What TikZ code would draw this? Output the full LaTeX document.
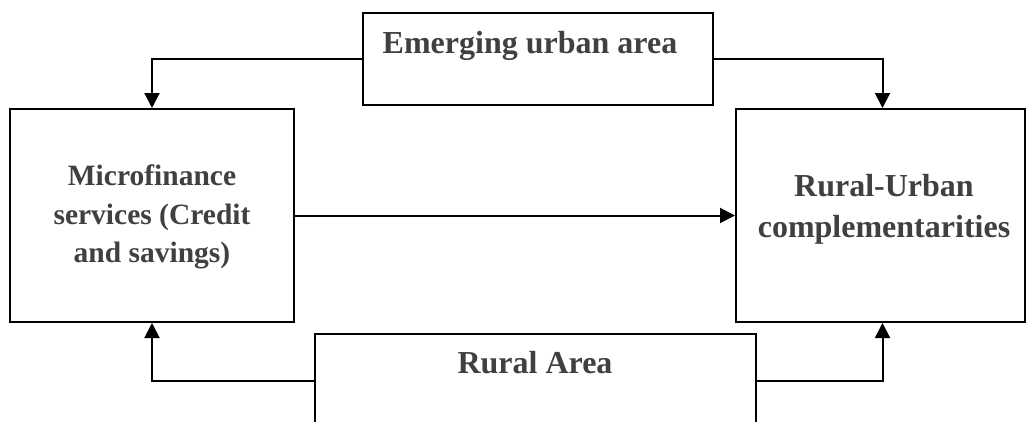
\documentclass[tikz,border=0pt]{standalone}
\usepackage{fontspec}
\setmainfont{Liberation Serif}
\usetikzlibrary{arrows.meta}
\definecolor{txt}{RGB}{64,64,64}
\begin{document}
\begin{tikzpicture}[x=1pt,y=-1pt,
  box/.style={draw, line width=2pt, inner sep=0pt, fill=white},
  lbl/.style={font=\bfseries\fontsize{32}{39}\selectfont, text=txt, align=center, inner sep=0pt},
  arr/.style={line width=2pt, -{Triangle[length=15pt,width=15pt]}}]
\useasboundingbox (0,0) rectangle (1026,421);
\clip (0,0) rectangle (1026,421);
\node[box, minimum width=350pt, minimum height=92pt] (top) at (538,59) {};
\node[box, minimum width=284pt, minimum height=213pt] (mf) at (152,215.5) {};
\node[box, minimum width=289pt, minimum height=213pt] (ru) at (880.5,215.5) {};
\node[box, minimum width=441pt, minimum height=94pt] (rural) at (535.5,381) {};
\node[lbl, anchor=base] (ttop) at (530,53) {Emerging urban area};
\node[lbl, font=\bfseries\fontsize{29.5}{38.5}\selectfont] (tmf) at (152,217) {Microfinance\\services (Credit\\and savings)};
\node[lbl, font=\bfseries\fontsize{32}{41}\selectfont] (tru) at (884,209) {Rural-Urban\\complementarities};
\node[lbl, anchor=base] (trural) at (535,373) {Rural Area};
\draw[arr] (top.west) -| (mf.north);
\draw[arr] (top.east) -| ([xshift=2pt]ru.north);
\draw[arr] (mf.east) -- (ru.west);
\draw[arr] (rural.west) -| (mf.south);
\draw[arr] (rural.east) -| ([xshift=2pt]ru.south);
\end{tikzpicture}
\end{document}
